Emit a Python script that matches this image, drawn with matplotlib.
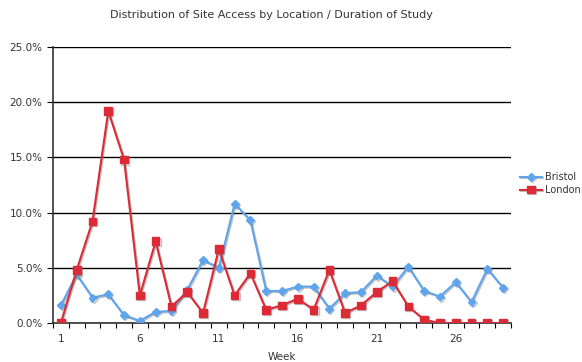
import matplotlib
matplotlib.use("Agg")
import matplotlib.pyplot as plt
import matplotlib.patheffects as pe
from matplotlib.ticker import FixedLocator, PercentFormatter

weeks = list(range(1, 30))
bristol = [1.6, 4.4, 2.3, 2.6, 0.7, 0.2, 1.0, 1.1, 3.0, 5.7, 5.0, 10.8, 9.3, 2.9, 2.9,
           3.3, 3.3, 1.3, 2.7, 2.8, 4.3, 3.3, 5.1, 2.9, 2.4, 3.7, 1.9, 4.9, 3.2]
london = [0.0, 4.8, 9.2, 19.2, 14.8, 2.5, 7.4, 1.5, 2.8, 0.9, 6.7, 2.5, 4.5, 1.2, 1.6,
          2.2, 1.2, 4.8, 0.9, 1.6, 2.8, 3.8, 1.5, 0.3, 0.0, 0.0, 0.0, 0.0, 0.0]
yticks = [0, 5, 10, 15, 20, 25]
xlabels = [1, 6, 11, 16, 21, 26]

plt.rcParams['font.family'] = ['DejaVu Sans']
fig = plt.figure(figsize=(5.82, 3.62), dpi=100)
W, H = 582, 362
ax = fig.add_axes([53 / W, (H - 323) / H, (511 - 53) / W, (323 - 47) / H])

shadow = [pe.SimpleLineShadow(offset=(0.8, -0.8), shadow_color='#777777', alpha=0.45), pe.Normal()]
ax.plot(weeks, bristol, color='#5FA5EE', lw=1.5, marker='D', ms=4,
        label='Bristol', path_effects=shadow, zorder=3)
ax.plot(weeks, london, color='#DC2A36', lw=1.5, marker='s', ms=5.5,
        label='London', path_effects=shadow, zorder=4)

ax.set_xlim(0.5, 29.5)
ax.set_ylim(0, 25)
ax.set_yticks(yticks)
ax.yaxis.set_major_formatter(PercentFormatter(decimals=1))
ax.grid(axis='y', color='black', lw=1)
ax.set_axisbelow(True)
ax.xaxis.set_major_locator(FixedLocator([w + 0.5 for w in range(0, 30)]))
ax.set_xticklabels([])
ax.xaxis.set_minor_locator(FixedLocator(xlabels))
ax.set_xticklabels([str(x) for x in xlabels], minor=True)
ax.tick_params(axis='x', which='major', length=3.5, direction='out', color='black')
ax.tick_params(axis='x', which='minor', length=0, labelsize=7.5, pad=8, labelcolor='#333333')
ax.tick_params(axis='y', length=4, direction='out', labelsize=7.5, labelcolor='#333333')
for s in ['top', 'right']:
    ax.spines[s].set_visible(False)
for s in ['left', 'bottom']:
    ax.spines[s].set_color('#333333')
    ax.spines[s].set_linewidth(1.2)

ax.set_xlabel('Week', fontsize=7.5, color='#333333', labelpad=6)
fig.text(271 / W, 1 - 15 / H, 'Distribution of Site Access by Location / Duration of Study',
         ha='center', va='center', fontsize=8, color='#333333')
leg = ax.legend(loc='upper left', bbox_to_anchor=(520 / W, 1 - 172 / H), bbox_transform=fig.transFigure,
                frameon=False, fontsize=7, handlelength=2.3, handletextpad=0.3,
                labelspacing=0.3, borderaxespad=0, borderpad=0)
for t in leg.get_texts():
    t.set_color('#333333')

fig.savefig('out.png', dpi=100)
